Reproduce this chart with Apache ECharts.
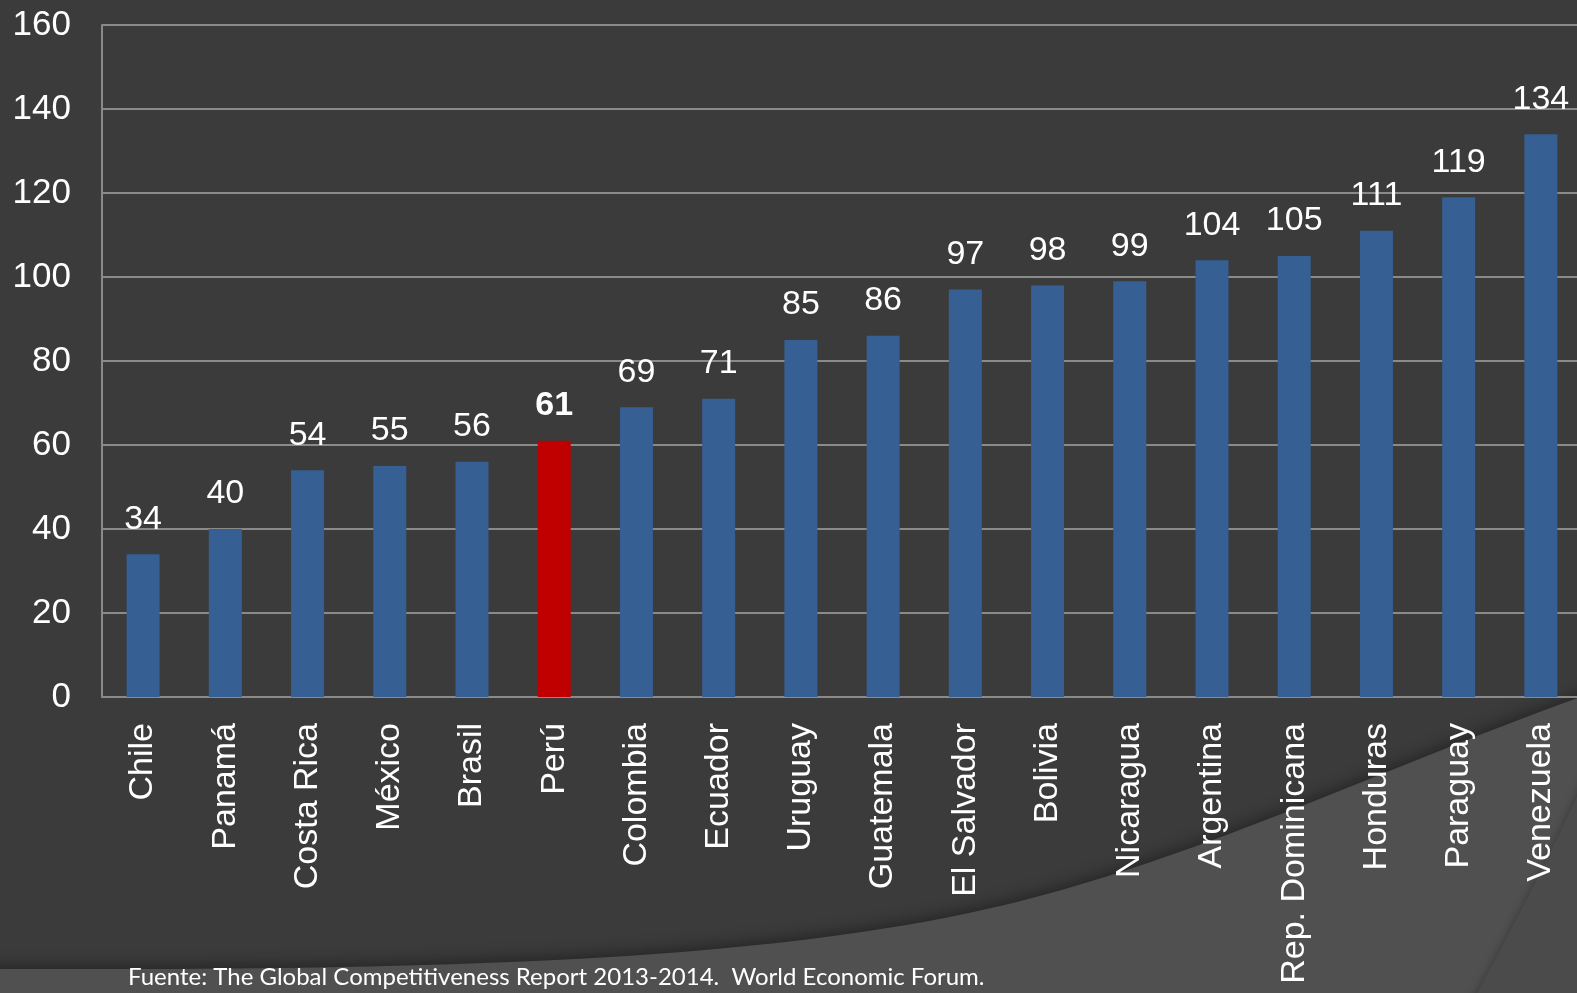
<!DOCTYPE html>
<html>
<head>
<meta charset="utf-8">
<script src="https://cdn.jsdelivr.net/npm/echarts@6/dist/echarts.min.js"></script>
<style>
html,body{margin:0;padding:0;background:#3b3b3b;}
#c{width:1577px;height:993px;}
</style>
</head>
<body>
<div id="c"></div>
<script>
const categories = ['Chile','Panamá','Costa Rica','México','Brasil','Perú','Colombia','Ecuador','Uruguay','Guatemala','El Salvador','Bolivia','Nicaragua','Argentina','Rep. Dominicana','Honduras','Paraguay','Venezuela'];
const values = [34,40,54,55,56,61,69,71,85,86,97,98,99,104,105,111,119,134];
const highlight = 'Perú';
const yTicks = [0,20,40,60,80,100,120,140,160];
const footnote = 'Fuente: The Global Competitiveness Report 2013-2014.  World Economic Forum.';

// background decoration: sample cubic bezier segments into polygon points
function cubic(p0, p1, p2, p3, n) {
  const pts = [];
  for (let k = 0; k <= n; k++) {
    const t = k / n, u = 1 - t;
    pts.push([
      u*u*u*p0[0] + 3*u*u*t*p1[0] + 3*u*t*t*p2[0] + t*t*t*p3[0],
      u*u*u*p0[1] + 3*u*u*t*p1[1] + 3*u*t*t*p2[1] + t*t*t*p3[1]
    ]);
  }
  return pts;
}
const bgShape = cubic([-10,969],[400,970],[750,965],[1000,906],40)
  .concat(cubic([1000,906],[1200,859],[1400,760],[1600,690],40).slice(1))
  .concat([[1600,1010],[-10,1010]]);
const bgShape2 = cubic([1468,1010],[1500,950],[1550,860],[1600,745],30).concat([[1600,1010]]);

const chart = echarts.init(document.getElementById('c'));
const data = values.map((v,i) => {
  const hl = categories[i] === highlight;
  return {
    value: v,
    itemStyle: { color: hl ? '#c00000' : '#365f93' },
    label: { fontWeight: hl ? 'bold' : 'normal' }
  };
});
chart.setOption({
  backgroundColor: '#3b3b3b',
  animation: false,
  graphic: [
    {
      type: 'polygon', z: -10, silent: true,
      shape: { points: bgShape },
      style: { fill: '#505050', shadowBlur: 16, shadowColor: 'rgba(0,0,0,0.4)', shadowOffsetY: -3 }
    },
    {
      type: 'polygon', z: -9, silent: true,
      shape: { points: bgShape2 },
      style: { fill: '#4b4b4b', shadowBlur: 10, shadowColor: 'rgba(0,0,0,0.3)' }
    },
    {
      type: 'text', left: 128, top: 965, z: 10,
      style: { text: footnote, fill: '#ffffff', font: '24px Lato' }
    }
  ],
  grid: { left: 102, top: 25, width: 1480, height: 672, containLabel: false, outerBoundsMode: 'none' },
  xAxis: {
    type: 'category',
    data: categories,
    axisLine: { show: true, lineStyle: { color: '#8a8a8a', width: 2 } },
    axisTick: { show: false },
    axisLabel: { rotate: 90, color: '#ffffff', fontSize: 34, fontFamily: 'Liberation Sans', margin: 26, interval: 0 }
  },
  yAxis: {
    type: 'value',
    min: yTicks[0], max: yTicks[yTicks.length-1], interval: 20,
    axisLine: { show: true, lineStyle: { color: '#8a8a8a', width: 2 } },
    axisTick: { show: false },
    splitLine: { show: true, lineStyle: { color: '#8a8a8a', width: 2 } },
    axisLabel: { color: '#ffffff', fontSize: 35, fontFamily: 'Liberation Sans', margin: 31 }
  },
  series: [{
    type: 'bar',
    data: data,
    barWidth: 33,
    label: { show: true, position: 'top', distance: 18, color: '#ffffff', fontSize: 34, fontFamily: 'Liberation Sans' }
  }]
});
</script>
</body>
</html>
